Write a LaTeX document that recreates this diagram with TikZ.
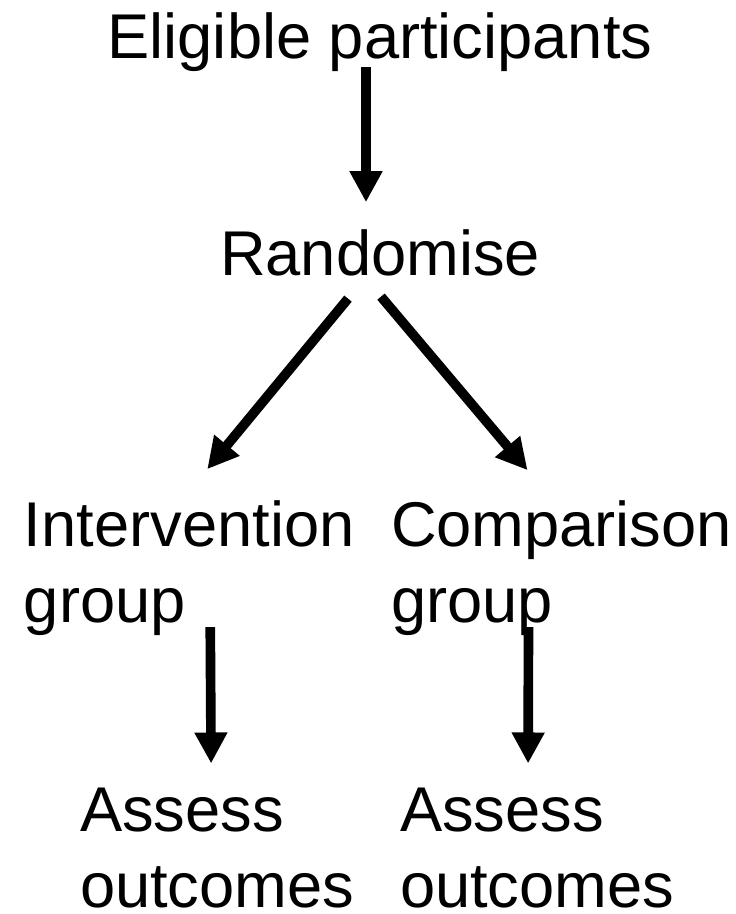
\documentclass[tikz,border=0pt]{standalone}
\usepackage{fontspec}
\setmainfont{Liberation Sans}
\usetikzlibrary{arrows.meta,calc}

\begin{document}
\begin{tikzpicture}[x=0.02cm, y=-0.02cm,
        every node/.style={inner sep=0pt, outer sep=0pt, font=\fontsize{36}{42.7}\selectfont},
        every text node part/.style={align=left},
        arr/.style={line width=5.5pt, -{Triangle[width=0.62cm,length=0.62cm]}}]
        \useasboundingbox (0,0) rectangle (735,914);
        \node[anchor=base] (elig) at (380,58) {Eligible participants};
        \node[anchor=base] (rand) at (380,275) {Randomise};
        \node[anchor=base west] (interv) at (24,622) {Intervention\\group};
        \node[anchor=base west] (compar) at (391,622) {Comparison\\group};
        \node[anchor=base west] (assessA) at (80,907) {Assess\\outcomes};
        \node[anchor=base west] (assessB) at (400,907) {Assess\\outcomes};
        \draw[arr] ($(elig.south)+(-14,-4)$) -- ($(rand.north)+(-14,-27)$);
        \draw[arr] ($(rand.south)+(-32,23)$) -- ($(interv.north)+(18,-32)$);
        \draw[arr] ($(rand.south)+(1,21)$) -- ($(compar.north)+(-34,-31)$);
        \draw[arr] ($(interv.south)+(21,-8)$) -- ($(assessA.north)+(-6,-25)$);
        \draw[arr] ($(compar.south)+(-33,-8)$) -- ($(assessB.north)+(-9,-25)$);
    \end{tikzpicture}
\end{document}
